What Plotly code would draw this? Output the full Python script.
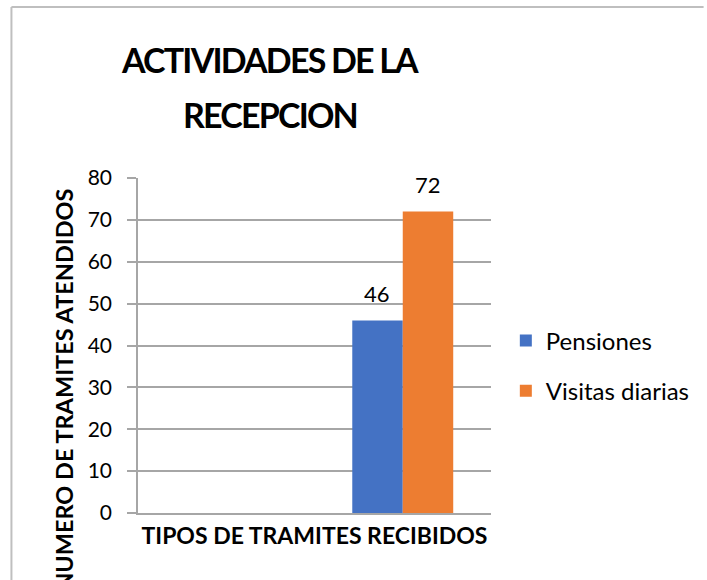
import plotly.graph_objects as go

categories = ["Grupo 1", "Grupo 2"]
pensiones = [None, 46]
visitas = [None, 72]
series_names = ["Pensiones", "Visitas diarias"]
title_lines = ["ACTIVIDADES DE LA", "RECEPCION"]
x_title = "TIPOS DE TRAMITES RECIBIDOS"
y_title = "NUMERO DE TRAMITES ATENDIDOS"
y_ticks = [0, 10, 20, 30, 40, 50, 60, 70, 80]

W, H = 707, 580
L, R, T, B = 138, 495, 178, 513
FONT = "Lato, 'Open Sans', sans-serif"

def px_x(p):
    return (p - L) / (R - L)

def px_y(p):
    return (B - p) / (B - T)

fig = go.Figure()
fig.add_trace(go.Bar(x=categories, y=pensiones, name=series_names[0],
                     marker=dict(color="#4472C4", line=dict(width=0)),
                     legendgroup="a"))
fig.add_trace(go.Bar(x=categories, y=visitas, name=series_names[1],
                     marker=dict(color="#ED7D31", line=dict(width=0)),
                     legendgroup="b"))

# data labels
for vals, shift in [(pensiones, -25.5), (visitas, 25.5)]:
    for c, v in zip(categories, vals):
        if v is None:
            continue
        fig.add_annotation(x=c, y=v, text=str(v), showarrow=False,
                           xshift=shift, yshift=27, yanchor="middle",
                           font=dict(family=FONT, size=22, color="#000000"))

# title (two lines, condensed via letter spacing)
for line, ypx in zip(title_lines, [60, 115]):
    fig.add_annotation(x=px_x(272), y=px_y(ypx), xref="paper", yref="paper",
                       text="<b><span style='letter-spacing:-1.8px'>" + line + "</span></b>",
                       showarrow=False, xanchor="center", yanchor="middle",
                       font=dict(family=FONT, size=34, color="#000000"))

# y axis title
fig.add_annotation(x=px_x(63), y=px_y(187), xref="paper", yref="paper",
                   text="<b>" + y_title + "</b>", showarrow=False,
                   textangle=-90, xanchor="center", yanchor="top",
                   font=dict(family=FONT, size=23.5, color="#000000"))

# chart border (left and top)
fig.add_shape(type="line", xref="paper", yref="paper",
              x0=px_x(10), x1=px_x(10), y0=px_y(7), y1=px_y(585),
              line=dict(color="#BFBFBF", width=2))
fig.add_shape(type="line", xref="paper", yref="paper",
              x0=px_x(10), x1=px_x(710), y0=px_y(7), y1=px_y(7),
              line=dict(color="#BFBFBF", width=2))

fig.update_layout(
    width=W, height=H,
    margin=dict(l=L, r=W - R, t=T, b=H - B, pad=0),
    paper_bgcolor="white", plot_bgcolor="white",
    barmode="group", bargap=0.428, bargroupgap=0,
    font=dict(family=FONT, size=20, color="#000000"),
    showlegend=True,
    legend=dict(x=px_x(510), y=px_y(366), xanchor="left", yanchor="middle",
                font=dict(family=FONT, size=24, color="#000000"),
                tracegroupgap=16, bgcolor="rgba(0,0,0,0)"),
    xaxis=dict(showticklabels=False, showgrid=False, showline=True,
               linecolor="#A6A6A6", linewidth=1.5, ticks="",
               title=dict(text="<b>" + x_title + "</b>", standoff=14,
                          font=dict(family=FONT, size=23, color="#000000"))),
    yaxis=dict(range=[0, 80], tickvals=y_ticks, showgrid=True,
               gridcolor="#A6A6A6", gridwidth=1.5, zeroline=False,
               showline=True, linecolor="#A6A6A6", linewidth=1.5,
               ticks="outside", ticklen=9, tickcolor="#A6A6A6", tickwidth=1.5,
               ticklabelstandoff=11,
               tickfont=dict(family=FONT, size=21, color="#000000")),
)

fig.write_html("out.html", config={"displayModeBar": False},
               post_script="document.body.style.margin='0';")
